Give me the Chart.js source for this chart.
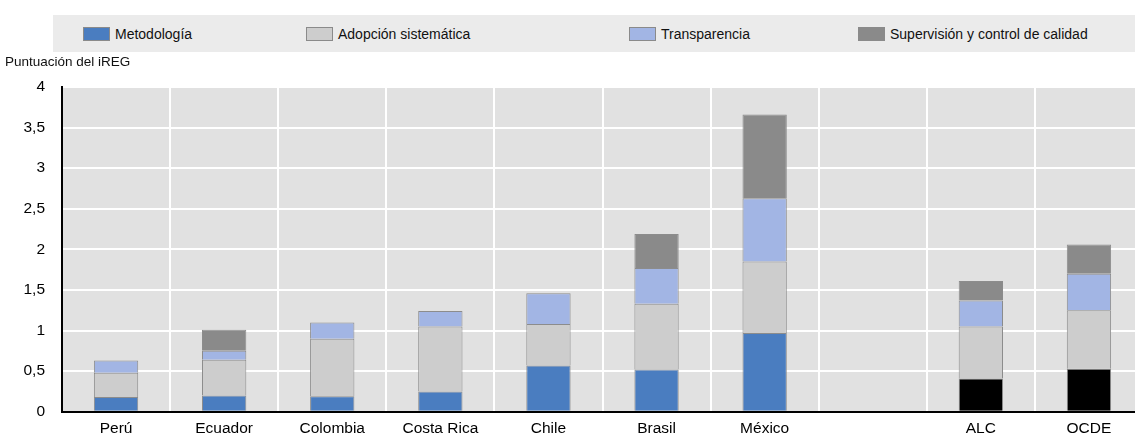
<!DOCTYPE html>
<html>
<head>
<meta charset="utf-8">
<script src="https://cdn.jsdelivr.net/npm/chart.js@4"></script>
<style>
  body { margin: 0; background: #fff; overflow: hidden; font-family: "Liberation Sans", Arial, sans-serif; }
  #wrap { position: relative; width: 1135px; height: 438px; overflow: hidden; }
  #box { position: absolute; left: 0; top: 0; width: 1143px; height: 438px; }
  #legend { position: absolute; left: 53px; top: 15px; width: 1090px; height: 37px; background: #ebebeb; }
  .item { position: absolute; top: 0; height: 37px; display: flex; align-items: center; font-size: 14px; color: #111; white-space: nowrap; }
  .sw { width: 27px; height: 14px; margin-right: 5px; box-sizing: border-box; border: 1px solid #8a8a8a; }
  #ytitle { position: absolute; left: 5px; top: 54px; font-size: 13.5px; color: #111; }
</style>
</head>
<body>
<div id="wrap">
  <div id="box"><canvas id="chart"></canvas></div>
  <div id="legend"></div>
  <div id="ytitle">Puntuación del iREG</div>
</div>
<script>
  // categorias e series
  const paises = ['Perú', 'Ecuador', 'Colombia', 'Costa Rica', 'Chile', 'Brasil', 'México', '', 'ALC', 'OCDE'];
  const metodologia = [0.18, 0.20, 0.19, 0.25, 0.57, 0.52, 0.97, null, 0.41, 0.53];
  const adopcion = [0.30, 0.44, 0.71, 0.80, 0.51, 0.81, 0.88, null, 0.64, 0.72];
  const transparencia = [0.15, 0.11, 0.20, 0.19, 0.38, 0.44, 0.78, null, 0.32, 0.45];
  const supervision = [0, 0.26, 0, 0, 0, 0.42, 1.03, null, 0.24, 0.36];
  const ticksY = [0, 0.5, 1, 1.5, 2, 2.5, 3, 3.5, 4];

  const series = [
    { nome: 'Metodología', dados: metodologia, cor: '#4a7dc0' },
    { nome: 'Adopción sistemática', dados: adopcion, cor: '#cdcdcd' },
    { nome: 'Transparencia', dados: transparencia, cor: '#a2b5e4' },
    { nome: 'Supervisión y control de calidad', dados: supervision, cor: '#8a8a8a' }
  ];
  const legendX = [30, 253, 576, 805];

  // legenda em HTML
  const legend = document.getElementById('legend');
  series.forEach((s, i) => {
    const el = document.createElement('div');
    el.className = 'item';
    el.style.left = legendX[i] + 'px';
    el.innerHTML = `<span class="sw" style="background:${s.cor}"></span>${s.nome}`;
    legend.appendChild(el);
  });

  // ALC e OCDE com metodologia em preto
  const corMetodologia = paises.map(p => (p === 'ALC' || p === 'OCDE') ? '#000000' : series[0].cor);

  const fundo = {
    id: 'fundo',
    beforeDraw(chart) {
      const { ctx, chartArea: a } = chart;
      ctx.save();
      ctx.fillStyle = '#e1e1e1';
      ctx.fillRect(a.left, a.top, a.right - a.left, a.bottom - a.top);
      ctx.restore();
    }
  };

  const fonte = '"Liberation Sans", Arial, sans-serif';

  new Chart(document.getElementById('chart'), {
    type: 'bar',
    data: {
      labels: paises,
      datasets: series.map((s, i) => ({
        label: s.nome,
        data: s.dados,
        backgroundColor: i === 0 ? corMetodologia : s.cor,
        borderColor: '#8c8c8c',
        borderWidth: 1,
        barPercentage: 0.41,
        categoryPercentage: 1
      }))
    },
    options: {
      responsive: true,
      maintainAspectRatio: false,
      animation: false,
      layout: { padding: { top: 87, right: 0, bottom: 0, left: 0 } },
      plugins: { legend: { display: false }, tooltip: { enabled: false } },
      scales: {
        x: {
          stacked: true,
          grid: { color: '#ffffff', lineWidth: 2, drawTicks: false, offset: true },
          border: { color: '#000000', width: 2 },
          ticks: { color: '#000', font: { family: fonte, size: 15.5 }, padding: 8, maxRotation: 0, autoSkip: false },
          afterFit(scale) { scale.height = 24; }
        },
        y: {
          stacked: true,
          min: 0,
          max: 4,
          afterBuildTicks(scale) { scale.ticks = ticksY.map(v => ({ value: v })); },
          grid: { color: '#ffffff', lineWidth: 2, drawTicks: false },
          border: { color: '#000000', width: 2 },
          ticks: {
            color: '#000',
            font: { family: fonte, size: 15.5 },
            padding: 17,
            callback: v => String(v).replace('.', ',')
          },
          afterFit(scale) { scale.width = 62; }
        }
      }
    },
    plugins: [fundo]
  });
</script>
</body>
</html>
